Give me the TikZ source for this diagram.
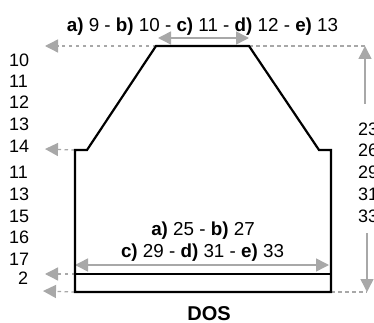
\documentclass[tikz,border=0pt]{standalone}
\usepackage{fontspec}
\setmainfont{Liberation Sans}
\usetikzlibrary{arrows.meta}
\definecolor{ag}{gray}{0.66}
\tikzset{
  x=1pt,y=-1pt,
  lab/.style={inner sep=0pt,font=\fontsize{18}{20}\selectfont},
  wide/.style={inner sep=0pt,font=\fontsize{18.8}{20}\selectfont},
  numl/.style={lab,anchor=west},
  outline/.style={draw=black,line width=2.2pt,line join=miter},
  dim/.style={draw=ag,line width=1.5pt,-{Triangle[length=13pt,width=13pt]},shorten >=0pt},
  dimb/.style={draw=ag,line width=1.5pt,{Triangle[length=13pt,width=13pt]}-{Triangle[length=13pt,width=13pt]}},
  lead/.style={draw=ag,line width=1.3pt,dash pattern=on 3.5pt off 3.5pt},
  leada/.style={lead,-{Triangle[length=13pt,width=13pt]}},
}
\begin{document}
\begin{tikzpicture}
\useasboundingbox (0,0) rectangle (374,323);
\clip (0,0) rectangle (374,323);
\coordinate (bl) at (75,292);
\coordinate (br) at (331,292);
\coordinate (sl0) at (75,150);
\coordinate (sl1) at (87,150);
\coordinate (tl) at (156,46);
\coordinate (tr) at (249,46);
\coordinate (sr1) at (319,150);
\coordinate (sr0) at (331,150);
\coordinate (rl) at (75,274);
\coordinate (rr) at (331,274);
\coordinate (a1) at (45,46);
\coordinate (a2) at (45,149);
\coordinate (a3) at (45,274);
\coordinate (a4) at (43,291);
\coordinate (v0) at (365,46);
\coordinate (v1) at (365,104);
\coordinate (v2) at (367,233);
\coordinate (v3) at (367,292);
\coordinate (wl) at (75,265);
\coordinate (wr) at (329,265);
\coordinate (tw1) at (158,38);
\coordinate (tw2) at (249,38);
\draw[lead] (tr) -- (v0);
\draw[lead] (br) -- (v3);
\draw[leada] (tl) -- (a1);
\draw[leada] (sl0) -- (a2);
\draw[leada] (rl) -- (a3);
\draw[leada] (bl) -- (a4);
\draw[dim] (v1) -- (v0);
\draw[dim] (v2) -- (v3);
\draw[dimb] (tw1) -- (tw2);
\draw[dimb] (wl) -- (wr);
\draw[outline] (sl1) -- (tl) -- (tr) -- (sr1) -- (sr0) -- (br) -- (bl) -- (sl0) -- cycle;
\draw[outline] (rl) -- (rr);
\node[wide] (top) at (202.5,26.7) {\textbf{a)} 9 - \textbf{b)} 10 - \textbf{c)} 11 - \textbf{d)} 12 - \textbf{e)} 13};
\node[wide] (w1) at (203,230.7) {\textbf{a)} 25 - \textbf{b)} 27};
\node[wide] (w2) at (202.5,252.7) {\textbf{c)} 29 - \textbf{d)} 31 - \textbf{e)} 33};
\node[lab,font=\fontsize{20}{22}\selectfont\bfseries] (dos) at (209,314) {DOS};
\node[numl] (l1) at (9,60) {10};
\node[numl] (l2) at (9,81) {11};
\node[numl] (l3) at (9,102) {12};
\node[numl] (l4) at (9,124) {13};
\node[numl] (l5) at (9,146) {14};
\node[numl] (l6) at (9,172) {11};
\node[numl] (l7) at (9,194) {13};
\node[numl] (l8) at (9,216) {15};
\node[numl] (l9) at (9,237) {16};
\node[numl] (l10) at (9,259) {17};
\node[numl] (l11) at (18,278) {2};
\node[numl] (r1) at (358,129) {23};
\node[numl] (r2) at (358,150) {26};
\node[numl] (r3) at (358,172) {29};
\node[numl] (r4) at (358,194) {31};
\node[numl] (r5) at (358,216) {33};
\end{tikzpicture}
\end{document}
